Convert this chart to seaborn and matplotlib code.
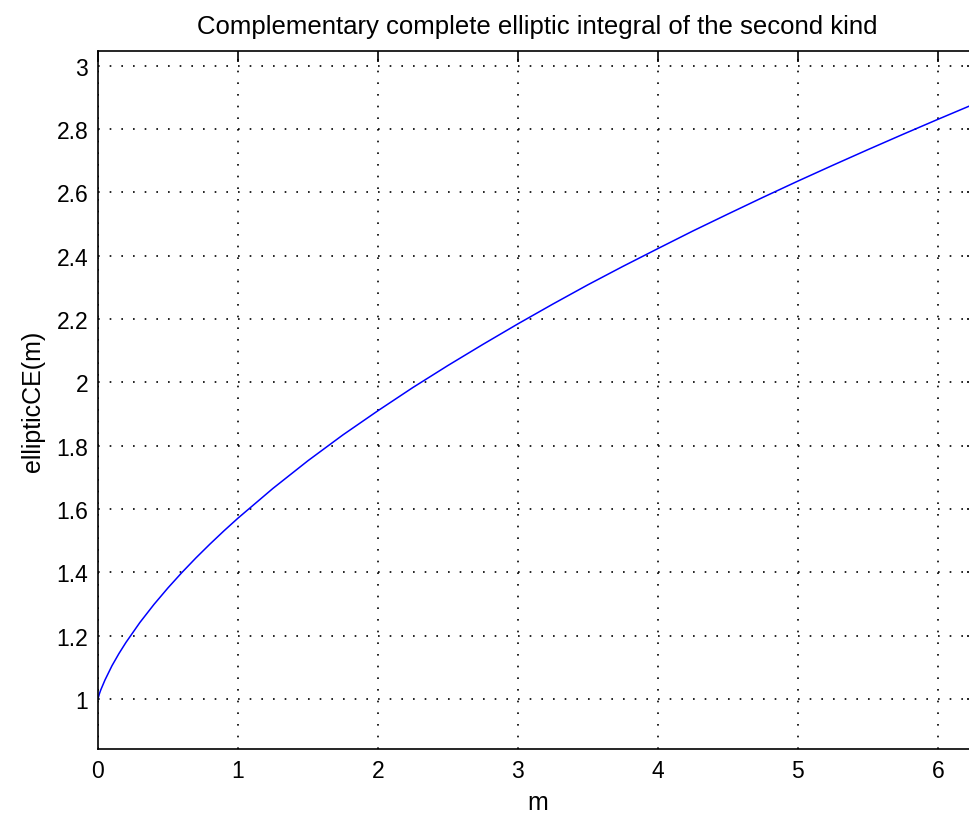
import matplotlib
matplotlib.use("Agg")
import matplotlib.pyplot as plt
import numpy as np
import pandas as pd
import seaborn as sns

# Sample points of the complementary complete elliptic integral E'(m)
m_vals = [0.0, 0.01, 0.02, 0.05, 0.1, 0.15, 0.2, 0.3, 0.4, 0.5, 0.6, 0.7, 0.8, 0.9,
          1.0, 1.25, 1.5, 1.75, 2.0, 2.25, 2.5, 2.75, 3.0, 3.25, 3.5, 3.75,
          4.0, 4.25, 4.5, 4.75, 5.0, 5.25, 5.5, 5.75, 6.0, 6.2832]
ce_vals = [1.0000, 1.0160, 1.0285, 1.0597, 1.1048, 1.1434, 1.1785, 1.2417, 1.2984,
           1.3506, 1.3994, 1.4454, 1.4890, 1.5308, 1.5708, 1.6648, 1.7522, 1.8338,
           1.9101, 1.9835, 2.0529, 2.1196, 2.1844, 2.2470, 2.3078, 2.3659, 2.4221,
           2.4777, 2.5311, 2.5838, 2.6352, 2.6853, 2.7345, 2.7828, 2.8302, 2.8830]

x_ticks = [0, 1, 2, 3, 4, 5, 6]
y_ticks = [1, 1.2, 1.4, 1.6, 1.8, 2, 2.2, 2.4, 2.6, 2.8, 3]
y_tick_labels = ["1", "1.2", "1.4", "1.6", "1.8", "2", "2.2", "2.4", "2.6", "2.8", "3"]

df = pd.DataFrame({"m": m_vals, "ce": ce_vals})

sns.set_style("white")
plt.rcParams["font.family"] = ["Liberation Sans", "DejaVu Sans"]
plt.rcParams["text.color"] = "black"
plt.rcParams["axes.labelcolor"] = "black"

fig = plt.figure(figsize=(9.69, 8.2), dpi=100)
ax = fig.add_axes([0.1011, 0.0854, 0.9077, 0.8508])

sns.lineplot(data=df, x="m", y="ce", ax=ax, color="#0000ff", linewidth=1.1)

ax.set_xlim(0, 2 * np.pi)
ax.set_ylim(0.842, 3.045)
ax.set_xticks(x_ticks)
ax.set_xticklabels([str(t) for t in x_ticks])
ax.set_yticks(y_ticks)
ax.set_yticklabels(y_tick_labels)

ax.grid(True, color="black", linestyle=(0, (1, 6)), linewidth=1.2)
ax.tick_params(direction="in", length=8, width=1.2, labelsize=16.5, colors="black",
               top=True, right=True, pad=7)
for s in ax.spines.values():
    s.set_color("black")
    s.set_linewidth(1.2)

ax.set_title("Complementary complete elliptic integral of the second kind",
             fontsize=18.5, pad=13, color="black")
ax.set_xlabel("m", fontsize=18, labelpad=6)
ax.set_ylabel("ellipticCE(m)", fontsize=18, labelpad=8)

fig.savefig("out.png", dpi=100)
